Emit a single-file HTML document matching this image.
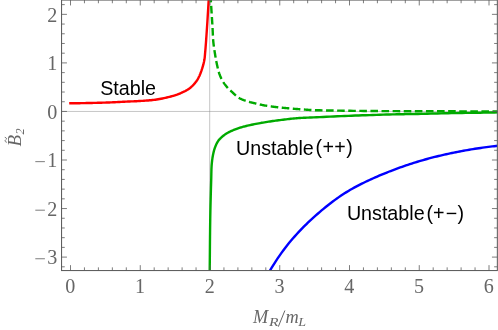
<!DOCTYPE html>
<html><head><meta charset="utf-8"><title>plot</title>
<style>
html,body{margin:0;padding:0;background:#fff;}
body{width:498px;height:330px;overflow:hidden;}
svg{display:block;transform:translateZ(0);will-change:transform;}
.tl text{font-family:"Liberation Serif",serif;font-size:20.1px;fill:#666;}
.lab{font-family:"Liberation Sans",sans-serif;font-size:19.7px;fill:#000;}
.ax{font-family:"Liberation Serif",serif;font-style:italic;fill:#666;}
</style></head><body>
<svg width="498" height="330" viewBox="0 0 498 330">
<rect width="498" height="330" fill="#fff"/>
<defs><clipPath id="c"><rect x="61.55" y="0.05" width="435.8" height="270.5"/></clipPath></defs>
<g stroke="#8c8c8c" stroke-width="0.5" fill="none">
<path d="M61.55 111.45 H497.35"/><path d="M209.70 0.05 V270.55"/>
</g>
<g clip-path="url(#c)" fill="none" stroke-width="2.4" stroke-linejoin="round">
<path stroke="#ff0000" d="M69.20 103.30 L70.52 103.28 L71.83 103.27 L73.14 103.25 L74.45 103.24 L75.76 103.23 L77.07 103.21 L78.39 103.20 L79.70 103.18 L81.02 103.16 L82.34 103.14 L83.67 103.12 L85.00 103.10 L86.38 103.07 L87.78 103.05 L89.19 103.02 L90.60 102.99 L92.02 102.96 L93.44 102.92 L94.85 102.89 L96.26 102.85 L97.65 102.82 L99.02 102.78 L100.37 102.74 L101.70 102.70 L102.86 102.66 L104.01 102.63 L105.15 102.59 L106.28 102.55 L107.39 102.51 L108.50 102.47 L109.60 102.43 L110.69 102.38 L111.77 102.34 L112.85 102.29 L113.93 102.25 L115.00 102.20 L116.00 102.15 L116.98 102.11 L117.96 102.06 L118.93 102.01 L119.89 101.96 L120.85 101.91 L121.81 101.85 L122.77 101.80 L123.74 101.75 L124.72 101.70 L125.70 101.65 L126.70 101.60 L127.77 101.55 L128.85 101.51 L129.93 101.46 L131.01 101.42 L132.11 101.38 L133.20 101.34 L134.31 101.30 L135.42 101.25 L136.55 101.20 L137.69 101.14 L138.84 101.07 L140.00 101.00 L141.33 100.91 L142.68 100.83 L144.05 100.74 L145.44 100.64 L146.84 100.55 L148.25 100.44 L149.66 100.32 L151.08 100.19 L152.50 100.05 L153.91 99.89 L155.31 99.70 L156.70 99.50 L158.11 99.27 L159.55 99.02 L161.00 98.75 L162.47 98.45 L163.93 98.15 L165.38 97.83 L166.81 97.50 L168.21 97.16 L169.56 96.82 L170.87 96.48 L172.12 96.14 L173.30 95.80 L174.11 95.56 L174.88 95.32 L175.62 95.08 L176.34 94.85 L177.04 94.61 L177.71 94.36 L178.38 94.11 L179.04 93.85 L179.70 93.58 L180.36 93.30 L181.02 93.01 L181.70 92.70 L182.41 92.37 L183.12 92.03 L183.84 91.69 L184.56 91.33 L185.27 90.97 L185.98 90.59 L186.68 90.20 L187.37 89.80 L188.05 89.38 L188.72 88.94 L189.37 88.48 L190.00 88.00 L190.63 87.49 L191.25 86.96 L191.86 86.40 L192.46 85.83 L193.04 85.24 L193.62 84.64 L194.17 84.02 L194.72 83.39 L195.24 82.75 L195.75 82.11 L196.24 81.46 L196.70 80.80 L197.13 80.16 L197.53 79.51 L197.92 78.86 L198.28 78.19 L198.63 77.52 L198.96 76.84 L199.29 76.15 L199.60 75.45 L199.90 74.73 L200.21 74.00 L200.50 73.26 L200.80 72.50 L201.14 71.60 L201.48 70.67 L201.80 69.70 L202.13 68.72 L202.44 67.71 L202.74 66.70 L203.02 65.69 L203.30 64.68 L203.55 63.67 L203.79 62.69 L204.01 61.73 L204.20 60.80 L204.34 60.04 L204.47 59.32 L204.57 58.63 L204.66 57.95 L204.74 57.28 L204.81 56.61 L204.87 55.93 L204.93 55.22 L204.99 54.49 L205.05 53.71 L205.12 52.89 L205.20 52.00 L205.34 50.39 L205.49 48.65 L205.64 46.77 L205.79 44.80 L205.95 42.74 L206.10 40.61 L206.25 38.43 L206.41 36.23 L206.56 34.01 L206.71 31.81 L206.86 29.63 L207.00 27.50 L207.15 25.26 L207.30 23.01 L207.44 20.74 L207.58 18.45 L207.72 16.15 L207.86 13.85 L208.00 11.54 L208.14 9.23 L208.28 6.91 L208.42 4.60 L208.56 2.30 L208.70 0.00"/>
<path stroke="#00aa00" stroke-dasharray="7.6 3.5" stroke-dashoffset="5.21" d="M210.80 0.00 L210.94 2.28 L211.09 4.59 L211.24 6.94 L211.39 9.30 L211.54 11.66 L211.69 14.01 L211.84 16.33 L211.99 18.60 L212.12 20.82 L212.26 22.97 L212.38 25.04 L212.50 27.00 L212.58 28.39 L212.64 29.73 L212.70 31.03 L212.76 32.29 L212.81 33.53 L212.86 34.74 L212.91 35.93 L212.97 37.10 L213.04 38.25 L213.11 39.40 L213.20 40.55 L213.30 41.70 L213.40 42.72 L213.51 43.73 L213.63 44.72 L213.76 45.71 L213.89 46.68 L214.03 47.64 L214.17 48.60 L214.31 49.55 L214.46 50.50 L214.60 51.43 L214.75 52.37 L214.90 53.30 L215.04 54.16 L215.17 55.01 L215.31 55.86 L215.45 56.69 L215.59 57.53 L215.74 58.35 L215.89 59.18 L216.04 60.00 L216.20 60.82 L216.36 61.65 L216.53 62.47 L216.70 63.30 L216.88 64.14 L217.06 64.99 L217.25 65.84 L217.44 66.70 L217.63 67.56 L217.83 68.41 L218.03 69.26 L218.25 70.09 L218.47 70.92 L218.70 71.73 L218.95 72.53 L219.20 73.30 L219.44 73.98 L219.68 74.64 L219.93 75.30 L220.18 75.95 L220.44 76.58 L220.71 77.21 L220.99 77.83 L221.27 78.44 L221.57 79.05 L221.87 79.64 L222.18 80.22 L222.50 80.80 L222.81 81.33 L223.13 81.86 L223.45 82.37 L223.79 82.88 L224.13 83.38 L224.48 83.87 L224.83 84.36 L225.20 84.84 L225.56 85.31 L225.94 85.78 L226.32 86.24 L226.70 86.70 L227.08 87.14 L227.47 87.58 L227.87 88.00 L228.27 88.42 L228.68 88.83 L229.09 89.24 L229.51 89.64 L229.94 90.05 L230.37 90.46 L230.81 90.87 L231.25 91.28 L231.70 91.70 L232.21 92.18 L232.72 92.68 L233.24 93.18 L233.76 93.70 L234.29 94.21 L234.83 94.72 L235.38 95.22 L235.94 95.72 L236.51 96.20 L237.09 96.66 L237.69 97.09 L238.30 97.50 L238.94 97.89 L239.60 98.26 L240.28 98.62 L240.97 98.96 L241.67 99.28 L242.38 99.59 L243.10 99.88 L243.82 100.17 L244.55 100.44 L245.27 100.70 L245.99 100.95 L246.70 101.20 L247.39 101.43 L248.07 101.64 L248.76 101.83 L249.45 102.01 L250.14 102.19 L250.84 102.35 L251.53 102.51 L252.22 102.67 L252.92 102.82 L253.61 102.98 L254.31 103.14 L255.00 103.30 L255.69 103.47 L256.38 103.63 L257.07 103.80 L257.76 103.97 L258.45 104.14 L259.14 104.30 L259.83 104.46 L260.52 104.62 L261.22 104.77 L261.91 104.92 L262.60 105.06 L263.30 105.20 L264.00 105.33 L264.69 105.45 L265.39 105.57 L266.09 105.69 L266.79 105.80 L267.50 105.91 L268.20 106.01 L268.90 106.11 L269.60 106.21 L270.30 106.31 L271.00 106.40 L271.70 106.50 L272.39 106.59 L273.08 106.69 L273.78 106.77 L274.47 106.86 L275.16 106.95 L275.85 107.03 L276.54 107.11 L277.23 107.19 L277.92 107.27 L278.62 107.35 L279.31 107.42 L280.00 107.50 L280.69 107.57 L281.38 107.65 L282.07 107.72 L282.76 107.79 L283.45 107.85 L284.15 107.92 L284.84 107.98 L285.53 108.05 L286.22 108.11 L286.91 108.17 L287.61 108.24 L288.30 108.30 L289.00 108.36 L289.70 108.42 L290.40 108.48 L291.10 108.54 L291.80 108.60 L292.50 108.66 L293.20 108.72 L293.90 108.78 L294.60 108.83 L295.30 108.89 L296.00 108.95 L296.70 109.00 L297.39 109.05 L298.09 109.11 L298.79 109.16 L299.49 109.21 L300.18 109.26 L300.88 109.31 L301.57 109.36 L302.27 109.41 L302.96 109.46 L303.64 109.51 L304.32 109.55 L305.00 109.60 L305.62 109.64 L306.21 109.69 L306.77 109.73 L307.32 109.78 L307.86 109.82 L308.41 109.86 L308.99 109.90 L309.59 109.94 L310.23 109.98 L310.92 110.02 L311.68 110.06 L312.50 110.10 L314.61 110.18 L317.06 110.25 L319.80 110.32 L322.79 110.39 L325.97 110.45 L329.31 110.51 L332.76 110.56 L336.26 110.61 L339.79 110.66 L343.28 110.71 L346.70 110.76 L350.00 110.80 L353.44 110.84 L356.90 110.88 L360.38 110.92 L363.88 110.95 L367.40 110.98 L370.94 111.01 L374.49 111.04 L378.06 111.06 L381.65 111.09 L385.25 111.11 L388.87 111.13 L392.50 111.15 L396.35 111.17 L400.21 111.19 L404.08 111.21 L407.96 111.22 L411.86 111.23 L415.79 111.25 L419.74 111.26 L423.72 111.27 L427.73 111.27 L431.78 111.28 L435.87 111.29 L440.00 111.30 L444.63 111.31 L449.33 111.32 L454.09 111.32 L458.90 111.33 L463.76 111.33 L468.64 111.33 L473.54 111.34 L478.45 111.34 L483.36 111.34 L488.27 111.34 L493.15 111.35 L498.00 111.35"/>
<path stroke="#00aa00" d="M209.70 271.00 L209.75 266.29 L209.79 261.51 L209.84 256.69 L209.88 251.85 L209.92 247.00 L209.96 242.18 L210.01 237.40 L210.06 232.70 L210.11 228.08 L210.17 223.57 L210.23 219.21 L210.30 215.00 L210.36 211.75 L210.43 208.53 L210.50 205.34 L210.58 202.20 L210.66 199.11 L210.74 196.10 L210.82 193.16 L210.90 190.31 L210.98 187.55 L211.06 184.91 L211.13 182.39 L211.20 180.00 L211.24 178.50 L211.27 177.05 L211.30 175.65 L211.33 174.31 L211.35 173.00 L211.38 171.74 L211.41 170.51 L211.44 169.31 L211.49 168.13 L211.55 166.97 L211.61 165.83 L211.70 164.70 L211.78 163.81 L211.86 162.94 L211.95 162.09 L212.04 161.25 L212.13 160.43 L212.24 159.62 L212.35 158.83 L212.46 158.05 L212.59 157.28 L212.72 156.51 L212.85 155.75 L213.00 155.00 L213.13 154.34 L213.27 153.68 L213.41 153.03 L213.56 152.40 L213.71 151.76 L213.86 151.14 L214.03 150.52 L214.20 149.91 L214.38 149.30 L214.58 148.70 L214.78 148.10 L215.00 147.50 L215.22 146.91 L215.45 146.33 L215.69 145.74 L215.93 145.16 L216.19 144.58 L216.45 144.01 L216.73 143.45 L217.01 142.89 L217.31 142.35 L217.63 141.82 L217.96 141.30 L218.30 140.80 L218.65 140.33 L219.03 139.86 L219.42 139.41 L219.82 138.97 L220.24 138.54 L220.66 138.11 L221.10 137.70 L221.53 137.30 L221.98 136.91 L222.42 136.53 L222.86 136.16 L223.30 135.80 L223.70 135.48 L224.09 135.17 L224.49 134.88 L224.88 134.60 L225.28 134.32 L225.68 134.05 L226.08 133.79 L226.50 133.53 L226.93 133.28 L227.37 133.02 L227.83 132.76 L228.30 132.50 L228.91 132.17 L229.56 131.85 L230.22 131.52 L230.91 131.19 L231.62 130.87 L232.34 130.55 L233.07 130.24 L233.80 129.93 L234.53 129.63 L235.26 129.35 L235.99 129.07 L236.70 128.80 L237.38 128.55 L238.04 128.32 L238.70 128.10 L239.35 127.89 L240.00 127.68 L240.65 127.48 L241.32 127.29 L242.01 127.09 L242.71 126.90 L243.44 126.70 L244.20 126.50 L245.00 126.30 L246.18 126.00 L247.44 125.70 L248.76 125.40 L250.12 125.10 L251.53 124.79 L252.97 124.49 L254.43 124.19 L255.90 123.89 L257.38 123.60 L258.84 123.33 L260.28 123.06 L261.70 122.80 L263.09 122.56 L264.48 122.32 L265.87 122.09 L267.26 121.88 L268.65 121.66 L270.05 121.46 L271.44 121.26 L272.84 121.06 L274.25 120.87 L275.66 120.68 L277.07 120.49 L278.50 120.30 L280.00 120.10 L281.51 119.90 L283.05 119.71 L284.59 119.51 L286.14 119.32 L287.69 119.13 L289.23 118.95 L290.76 118.78 L292.28 118.62 L293.78 118.46 L295.26 118.32 L296.70 118.20 L297.93 118.10 L299.10 118.02 L300.22 117.96 L301.32 117.90 L302.41 117.85 L303.50 117.80 L304.61 117.76 L305.75 117.71 L306.95 117.67 L308.21 117.62 L309.56 117.56 L311.00 117.50 L313.66 117.38 L316.58 117.24 L319.71 117.09 L323.02 116.94 L326.48 116.78 L330.05 116.62 L333.68 116.45 L337.36 116.29 L341.03 116.13 L344.67 115.98 L348.24 115.83 L351.70 115.70 L355.14 115.57 L358.64 115.44 L362.18 115.32 L365.74 115.20 L369.31 115.08 L372.85 114.96 L376.35 114.85 L379.79 114.75 L383.15 114.65 L386.40 114.56 L389.52 114.48 L392.50 114.40 L394.59 114.35 L396.56 114.31 L398.44 114.27 L400.25 114.24 L402.02 114.21 L403.76 114.18 L405.51 114.16 L407.27 114.13 L409.08 114.11 L410.95 114.07 L412.92 114.04 L415.00 114.00 L417.93 113.94 L420.99 113.87 L424.16 113.80 L427.43 113.72 L430.78 113.64 L434.20 113.56 L437.65 113.48 L441.14 113.40 L444.63 113.32 L448.12 113.24 L451.58 113.17 L455.00 113.10 L458.53 113.03 L462.08 112.97 L465.64 112.91 L469.22 112.85 L472.81 112.79 L476.40 112.74 L480.00 112.68 L483.61 112.62 L487.21 112.57 L490.82 112.51 L494.41 112.46 L498.00 112.40"/>
<path stroke="#0000ff" d="M269.80 270.85 L271.72 267.63 L273.64 264.52 L275.55 261.52 L277.47 258.62 L279.39 255.82 L281.31 253.12 L283.22 250.50 L285.14 247.96 L287.06 245.51 L288.98 243.12 L290.89 240.81 L292.81 238.56 L294.73 236.37 L296.65 234.23 L298.56 232.15 L300.48 230.12 L302.40 228.14 L304.32 226.20 L306.24 224.31 L308.15 222.46 L310.07 220.65 L311.99 218.87 L313.91 217.13 L315.82 215.42 L317.74 213.73 L319.66 212.08 L321.58 210.45 L323.49 208.85 L325.41 207.27 L327.33 205.73 L329.25 204.21 L331.16 202.73 L333.08 201.28 L335.00 199.87 L336.92 198.48 L338.84 197.14 L340.75 195.83 L342.67 194.56 L344.59 193.32 L346.51 192.12 L348.42 190.96 L350.34 189.83 L352.26 188.74 L354.18 187.67 L356.09 186.63 L358.01 185.62 L359.93 184.63 L361.85 183.67 L363.76 182.72 L365.68 181.79 L367.60 180.88 L369.52 179.99 L371.44 179.10 L373.35 178.24 L375.27 177.38 L377.19 176.54 L379.11 175.71 L381.02 174.89 L382.94 174.09 L384.86 173.30 L386.78 172.52 L388.69 171.76 L390.61 171.01 L392.53 170.27 L394.45 169.54 L396.36 168.83 L398.28 168.13 L400.20 167.44 L402.12 166.76 L404.04 166.09 L405.95 165.44 L407.87 164.79 L409.79 164.16 L411.71 163.54 L413.62 162.94 L415.54 162.34 L417.46 161.75 L419.38 161.18 L421.29 160.61 L423.21 160.06 L425.13 159.52 L427.05 158.99 L428.96 158.46 L430.88 157.95 L432.80 157.45 L434.72 156.96 L436.64 156.48 L438.55 156.01 L440.47 155.55 L442.39 155.10 L444.31 154.66 L446.22 154.22 L448.14 153.80 L450.06 153.39 L451.98 152.98 L453.89 152.59 L455.81 152.20 L457.73 151.82 L459.65 151.46 L461.56 151.10 L463.48 150.74 L465.40 150.40 L467.32 150.07 L469.24 149.74 L471.15 149.42 L473.07 149.11 L474.99 148.81 L476.91 148.51 L478.82 148.23 L480.74 147.95 L482.66 147.67 L484.58 147.41 L486.49 147.15 L488.41 146.90 L490.33 146.66 L492.25 146.42 L494.16 146.19 L496.08 145.97 L498.00 145.75"/>
</g>
<g stroke="#5c5c5c" stroke-width="1.05" fill="none">
<rect x="61.55" y="0.05" width="435.8" height="270.5"/>
<g stroke-width="0.8"><path d="M70.50 270.55 v-5.4 M70.50 0.05 v5.4"/><path d="M84.45 270.55 v-3.2 M84.45 0.05 v3.2"/><path d="M98.40 270.55 v-3.2 M98.40 0.05 v3.2"/><path d="M112.35 270.55 v-3.2 M112.35 0.05 v3.2"/><path d="M126.30 270.55 v-3.2 M126.30 0.05 v3.2"/><path d="M140.25 270.55 v-5.4 M140.25 0.05 v5.4"/><path d="M154.20 270.55 v-3.2 M154.20 0.05 v3.2"/><path d="M168.15 270.55 v-3.2 M168.15 0.05 v3.2"/><path d="M182.10 270.55 v-3.2 M182.10 0.05 v3.2"/><path d="M196.05 270.55 v-3.2 M196.05 0.05 v3.2"/><path d="M210.00 270.55 v-5.4 M210.00 0.05 v5.4"/><path d="M223.95 270.55 v-3.2 M223.95 0.05 v3.2"/><path d="M237.90 270.55 v-3.2 M237.90 0.05 v3.2"/><path d="M251.85 270.55 v-3.2 M251.85 0.05 v3.2"/><path d="M265.80 270.55 v-3.2 M265.80 0.05 v3.2"/><path d="M279.75 270.55 v-5.4 M279.75 0.05 v5.4"/><path d="M293.70 270.55 v-3.2 M293.70 0.05 v3.2"/><path d="M307.65 270.55 v-3.2 M307.65 0.05 v3.2"/><path d="M321.60 270.55 v-3.2 M321.60 0.05 v3.2"/><path d="M335.55 270.55 v-3.2 M335.55 0.05 v3.2"/><path d="M349.50 270.55 v-5.4 M349.50 0.05 v5.4"/><path d="M363.45 270.55 v-3.2 M363.45 0.05 v3.2"/><path d="M377.40 270.55 v-3.2 M377.40 0.05 v3.2"/><path d="M391.35 270.55 v-3.2 M391.35 0.05 v3.2"/><path d="M405.30 270.55 v-3.2 M405.30 0.05 v3.2"/><path d="M419.25 270.55 v-5.4 M419.25 0.05 v5.4"/><path d="M433.20 270.55 v-3.2 M433.20 0.05 v3.2"/><path d="M447.15 270.55 v-3.2 M447.15 0.05 v3.2"/><path d="M461.10 270.55 v-3.2 M461.10 0.05 v3.2"/><path d="M475.05 270.55 v-3.2 M475.05 0.05 v3.2"/><path d="M489.00 270.55 v-5.4 M489.00 0.05 v5.4"/><path d="M61.55 266.81 h3.2 M497.35 266.81 h-3.2"/><path d="M61.55 257.10 h5.4 M497.35 257.10 h-5.4"/><path d="M61.55 247.39 h3.2 M497.35 247.39 h-3.2"/><path d="M61.55 237.68 h3.2 M497.35 237.68 h-3.2"/><path d="M61.55 227.97 h3.2 M497.35 227.97 h-3.2"/><path d="M61.55 218.26 h3.2 M497.35 218.26 h-3.2"/><path d="M61.55 208.55 h5.4 M497.35 208.55 h-5.4"/><path d="M61.55 198.84 h3.2 M497.35 198.84 h-3.2"/><path d="M61.55 189.13 h3.2 M497.35 189.13 h-3.2"/><path d="M61.55 179.42 h3.2 M497.35 179.42 h-3.2"/><path d="M61.55 169.71 h3.2 M497.35 169.71 h-3.2"/><path d="M61.55 160.00 h5.4 M497.35 160.00 h-5.4"/><path d="M61.55 150.29 h3.2 M497.35 150.29 h-3.2"/><path d="M61.55 140.58 h3.2 M497.35 140.58 h-3.2"/><path d="M61.55 130.87 h3.2 M497.35 130.87 h-3.2"/><path d="M61.55 121.16 h3.2 M497.35 121.16 h-3.2"/><path d="M61.55 111.45 h5.4 M497.35 111.45 h-5.4"/><path d="M61.55 101.74 h3.2 M497.35 101.74 h-3.2"/><path d="M61.55 92.03 h3.2 M497.35 92.03 h-3.2"/><path d="M61.55 82.32 h3.2 M497.35 82.32 h-3.2"/><path d="M61.55 72.61 h3.2 M497.35 72.61 h-3.2"/><path d="M61.55 62.90 h5.4 M497.35 62.90 h-5.4"/><path d="M61.55 53.19 h3.2 M497.35 53.19 h-3.2"/><path d="M61.55 43.48 h3.2 M497.35 43.48 h-3.2"/><path d="M61.55 33.77 h3.2 M497.35 33.77 h-3.2"/><path d="M61.55 24.06 h3.2 M497.35 24.06 h-3.2"/><path d="M61.55 14.35 h5.4 M497.35 14.35 h-5.4"/><path d="M61.55 4.64 h3.2 M497.35 4.64 h-3.2"/></g>
</g>
<g class="tl"><text x="70.2" y="293.4" text-anchor="middle">0</text><text x="139.9" y="293.4" text-anchor="middle">1</text><text x="209.7" y="293.4" text-anchor="middle">2</text><text x="279.4" y="293.4" text-anchor="middle">3</text><text x="349.2" y="293.4" text-anchor="middle">4</text><text x="418.9" y="293.4" text-anchor="middle">5</text><text x="488.7" y="293.4" text-anchor="middle">6</text><path d="M35.3 258.75 H44.9" stroke="#666" stroke-width="0.85"/><text x="57.2" y="264.4" text-anchor="end">3</text><path d="M35.3 210.20 H44.9" stroke="#666" stroke-width="0.85"/><text x="57.2" y="215.9" text-anchor="end">2</text><path d="M35.3 161.65 H44.9" stroke="#666" stroke-width="0.85"/><text x="57.2" y="167.3" text-anchor="end">1</text><text x="57.2" y="118.8" text-anchor="end">0</text><text x="57.2" y="70.2" text-anchor="end">1</text><text x="57.2" y="21.7" text-anchor="end">2</text></g>
<text class="lab" x="100.2" y="95">Stable</text>
<text class="lab" x="236" y="154.6">Unstable</text>
<text class="lab" y="154.4" x="315.4 322.5 334.3 346.3">(++)</text>
<text class="lab" x="346.9" y="220">Unstable</text>
<text class="lab" y="220" x="426.5 433.1 445.8 457.4">(+−)</text>
<g class="ax">
<text x="253" y="323" font-size="18.3">M</text><text x="269.0" y="326.2" font-size="11.5" transform="translate(269.0 0) scale(1.36 1) translate(-269.0 0)">R</text><path d="M278.3 326.7 L284.9 310.5" stroke="#666" stroke-width="1" fill="none"/><text x="285.6" y="323" font-size="18.3">m</text><text x="298.3" y="326.2" font-size="11.5" transform="translate(298.3 0) scale(1.22 1) translate(-298.3 0)">L</text>
<g transform="translate(21.4,146.6) rotate(-90)"><text x="0" y="0" font-size="19">B<tspan font-size="12.2" dx="0.6" dy="2.1">2</tspan></text><path d="M4.3 -14.5 C5.0 -16.9 6.1 -16.7 6.8 -15.6 S8.6 -14.3 9.3 -16.6" stroke="#666" stroke-width="0.9" fill="none"/></g>
</g>
</svg>
</body></html>
